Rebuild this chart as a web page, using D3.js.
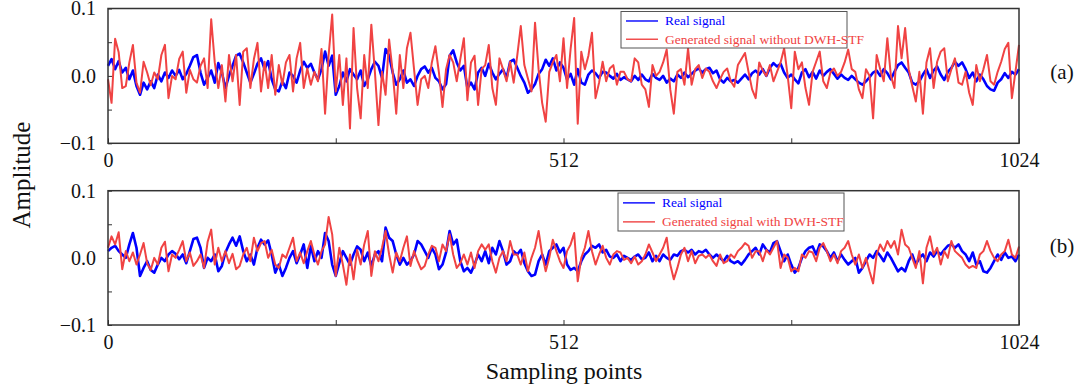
<!DOCTYPE html>
<html>
<head>
<meta charset="utf-8">
<script src="https://cdn.jsdelivr.net/npm/d3@7"></script>
<style>
  body { margin: 0; background: #fff; }
  svg text { font-family: "Liberation Serif", "Times New Roman", serif; }
</style>
</head>
<body>
<div id="chart"></div>
<script>
// Amplitudes, in units of 1e-3, one value every 4 sampling points (0..1024)
const realA = [
  15,25,10,22,5,12,-5,8,-15,-28, -10,-20,-8,-18,2,-8,5,-3,8,0,
  9,-5,3,15,28,31,5,-13,-3,8, -10,19,5,-18,0,15,30,33,20,5,
  -10,3,18,26,10,22,-5,-20,-23,-8, -18,5,0,-10,8,21,12,18,5,-5,
  10,36,15,30,-28,-15,5,-8,10,2, -5,8,-15,-5,10,21,15,-3,40,30,
  5,-13,-5,8,-10,-5, -15,0,10,14,
  5,12,-3,-8,-20,-12,30,38,20,8, 15,-18,-10,-20,5,12,0,18,5,-5,
  3,10,-3,21,24,12,0,-10,-25,-20, -12,3,10,24,15,26,8,20,12,-5,
  3,-13,10,-10,-13,2,8,4,-3,6, 5,0,-4,3,-6,-2,-5,-8,0,-6,
  2,-5,-8,3,-3,-6,0,-10,-4,-8, 2,-3,5,-2,3,8,11,5,10,12,
  4,8, -5,-10,-3,-8,-6,-10,-4,2,
  -5,4,8,2,10,0,12,19,14,18, 5,-3,2,-5,-11,5,10,-2,6,-4,
  8,0,6,10,3,-4,2,-3,-6,0, -5,-10,-13,-8,-2,5,8,0,10,4,
  -5,6,16,20,12,5,-10,-13,-8,2, 10,-3,8,14,2,-6,6,12,21,15,
  20,10,-3,5,-8,2,-5,-15,-20,-22, -10,-5,4,-3,6,2,10
];
const genA = [
  -5,-40,55,35,-18,-15,20,46,-10,-25, 21,5,-14,5,-5,31,46,-33,0,-5,
  25,36,-25,9,-5,-10,15,26,-18,84, 20,-18,16,-38,31,-8,31,-43,36,41,
  -18,25,49,-23,21,-18,31,-28,16,-13, 20,31,-23,26,49,-18,11,-13,6,-8,
  40,-56,31,91,-23,31,-43,26,-78,71, -18,-63,31,-18,76,6,-73,6,-28,54,
  6,-56,31,-18,41,64, 10,-43,-5,0,
  -18,20,44,5,-46,10,31,20,-8,25, 56,-36,20,30,-43,10,16,46,-18,-43,
  26,10,-8,21,-10,30,74,16,-4,-23, 79,10,-40,-68,6,20,31,-8,56,-18,
  40,86,-71,36,10,30,64,-33,-10,21, -8,11,16,-13,6,6,-5,-8,26,20,
  -13,-20,-46,16,0,6,20,39,-20,-56, 6,10,-13,41,-13,10,16,-3,11,6,
  -8,-18, -5,6,11,-8,-16,16,25,34,
  6,-20,-33,20,8,0,16,-8,6,20, 41,0,-48,36,10,20,-18,-43,6,21,
  36,-8,-18,5,11,0,6,20,39,10, 6,-20,-33,10,0,-63,31,10,-8,56,
  0,-18,74,26,71,10,-15,-38,6,-56, 20,41,-18,21,36,41,-8,10,26,-10,
  -13,6,-25,-43,16,-8,10,31,-8,-13, 6,21,40,49,-33,6,46
];
const realB = [
  10,15,18,10,5,0,20,37,15,-27, -15,-5,-18,-22,-10,0,-5,5,10,6,
  -2,5,-8,10,28,30,15,-15,0,-5, 5,-20,-12,8,20,30,18,32,10,-5,
  5,-10,15,27,20,26,5,-22,-10,-27, -15,0,10,-8,5,20,-15,18,-5,10,
  0,37,25,-10,-27,-8,10,0,-10,5, 17,12,-5,8,-12,5,10,-5,45,30,
  25,5,-10,0,-10,-5,5, 25,20,10,
  0,15,5,-17,-10,8,40,20,27,-5, -20,-15,-22,-10,5,-5,10,-8,15,5,
  25,10,-10,-5,10,5,12,-8,-20,-27, -25,-5,5,-10,10,15,20,8,15,-10,
  -18,-15,-20,-5,5,10,18,15,20,8, 12,2,0,5,-5,3,0,-3,2,5,
  -2,0,8,-5,3,-5,5,0,-3,5, 3,10,12,8,12,5,10,8,12,5,
  0,5, 0,-5,3,-5,-8,-5,-10,-3,
  5,10,15,5,20,12,8,22,25,10, -5,5,-10,-22,-15,0,10,15,17,5,
  20,17,10,0,8,-5,5,-3,-10,-5, 0,-22,-15,-5,5,0,10,3,-5,8,
  0,-10,-20,-15,-20,-5,5,-10,0,5, -5,8,2,10,5,12,18,20,15,20,
  10,5,-5,8,-10,-5,-20,-22,-15,-5, 5,-3,8,0,2,-5,5
];
const genB = [
  15,32,20,38,-17,10,-5,8,-10,5, 22,-8,-18,0,-10,15,24,-20,5,0,
  12,25,-5,8,-12,-5,5,-15,24,42, -10,15,-5,10,-8,6,-17,-12,5,15,
  -5,30,10,22,25,0,12,-10,-15,5, 0,15,30,-5,8,-8,10,25,5,-10,
  10,20,61,35,-27,15,-10,-40,5,-32, 12,-10,20,40,-27,10,-5,15,40,5,
  -22,8,-5,15,32,-12,10, -5,-17,-12,
  5,18,15,-5,20,10,35,5,-15,-8, 5,-10,8,-15,10,20,12,20,-5,-22,
  0,10,-5,25,5,5,-10,8,-20,0, 15,40,5,-20,0,27,10,-5,-15,10,
  20,37,-35,0,15,40,10,-10,5,18, 0,-10,5,10,8,-3,0,-8,2,-10,
  -5,5,20,8,-5,5,15,30,-10,-32, -15,5,15,-5,10,-8,3,5,0,5,
  -5,-12, 5,-8,-5,5,0,10,15,22,
  18,0,10,10,-5,12,5,15,25,-15, 5,0,-20,-15,-20,5,0,10,8,-5,
  15,22,10,-5,5,-8,10,15,25,5, -10,5,-15,0,-20,-38,5,20,10,25,
  15,25,5,42,20,15,0,-15,10,-38, 15,32,5,15,-10,10,0,25,10,5,
  0,-10,-15,-12,-15,5,10,25,10,0, -5,5,10,27,5,0,17
];

const xTicks = [0, 256, 512, 768, 1024];
const xLabels = [0, 512, 1024];
const yTicks = [-0.1, -0.05, 0, 0.05, 0.1];
const yLabels = [-0.1, 0, 0.1];
const realLabel = "Real signal";
const genLabels = ["Generated signal without DWH-STF", "Generated signal with DWH-STF"];
const panelTags = ["(a)", "(b)"];

const width = 1080, height = 386;
const blue = "#0000ff", red = "#f04343";

const svg = d3.select("#chart").append("svg")
    .attr("width", width)
    .attr("height", height);

const x = d3.scaleLinear().domain([0, 1024]).range([108, 1019]);

const panels = [
    { top: 8.5, bottom: 143.3, real: realA, gen: genA, genLabel: genLabels[0], tag: panelTags[0], tagY: 79,
      box: { x: 621, y: 11.5, w: 226, h: 36.5 } },
    { top: 190.7, bottom: 325, real: realB, gen: genB, genLabel: genLabels[1], tag: panelTags[1], tagY: 253,
      box: { x: 618, y: 193, w: 226, h: 38 } }
];

panels.forEach(p => {
    const y = d3.scaleLinear().domain([-0.1, 0.1]).range([p.bottom, p.top]);
    const g = svg.append("g");

    const line = arr => d3.line()
        .x((d, i) => x(i * 1024 / (arr.length - 1)))
        .y(d => y(d / 1000))(arr);

    // signals, real first so the generated one sits on top
    g.append("path")
        .attr("d", line(p.real))
        .attr("fill", "none")
        .attr("stroke", blue)
        .attr("stroke-width", 2.6)
        .attr("stroke-linejoin", "round");

    g.append("path")
        .attr("d", line(p.gen))
        .attr("fill", "none")
        .attr("stroke", red)
        .attr("stroke-width", 2)
        .attr("stroke-linejoin", "round");

    // axes, ticks pointing inwards
    const yAxis = d3.axisLeft(y)
        .tickValues(yTicks)
        .tickSizeInner(-4)
        .tickSizeOuter(0)
        .tickPadding(12)
        .tickFormat(d => yLabels.includes(d) ? d3.format(".1f")(d) : "");

    g.append("g")
        .attr("transform", "translate(108,0)")
        .call(yAxis)
        .call(a => a.select(".domain").remove())
        .call(a => a.selectAll("line").attr("stroke", "#333"))
        .call(a => a.selectAll("text").attr("font-size", 20).attr("fill", "#111")
            .style("font-family", "'Liberation Serif', serif"));

    const xAxis = d3.axisBottom(x)
        .tickValues(xTicks)
        .tickSizeInner(-5)
        .tickSizeOuter(0)
        .tickPadding(10)
        .tickFormat(d => xLabels.includes(d) ? d : "");

    g.append("g")
        .attr("transform", `translate(0,${p.bottom})`)
        .call(xAxis)
        .call(a => a.select(".domain").remove())
        .call(a => a.selectAll("line").attr("stroke", "#333"))
        .call(a => a.selectAll("text").attr("font-size", 20).attr("fill", "#111")
            .style("font-family", "'Liberation Serif', serif"));

    // frame
    g.append("rect")
        .attr("x", x(0))
        .attr("y", p.top)
        .attr("width", x(1024) - x(0))
        .attr("height", p.bottom - p.top)
        .attr("fill", "none")
        .attr("stroke", "#333")
        .attr("stroke-width", 1.5);

    // legend
    const lg = g.append("g").attr("transform", `translate(${p.box.x},${p.box.y})`);
    lg.append("rect")
        .attr("width", p.box.w)
        .attr("height", p.box.h)
        .attr("fill", "#fff")
        .attr("stroke", "#555")
        .attr("stroke-width", 1);

    const items = [
        { label: realLabel, color: blue },
        { label: p.genLabel, color: red }
    ];
    items.forEach((it, k) => {
        const ly = p.box.h * (0.26 + 0.5 * k);
        lg.append("line")
            .attr("x1", 5).attr("x2", 37)
            .attr("y1", ly).attr("y2", ly)
            .attr("stroke", it.color)
            .attr("stroke-width", 1.4);
        lg.append("text")
            .attr("x", 44)
            .attr("y", ly + 4.5)
            .attr("font-size", 13.5)
            .attr("fill", it.color)
            .text(it.label);
    });

    svg.append("text")
        .attr("x", 1062)
        .attr("y", p.tagY)
        .attr("text-anchor", "middle")
        .attr("font-size", 21)
        .attr("fill", "#111")
        .text(p.tag);
});

svg.append("text")
    .attr("transform", "translate(30,175) rotate(-90)")
    .attr("text-anchor", "middle")
    .attr("font-size", 25)
    .attr("fill", "#111")
    .text("Amplitude");

svg.append("text")
    .attr("x", 564)
    .attr("y", 379)
    .attr("text-anchor", "middle")
    .attr("font-size", 24)
    .attr("fill", "#111")
    .text("Sampling points");
</script>
</body>
</html>
